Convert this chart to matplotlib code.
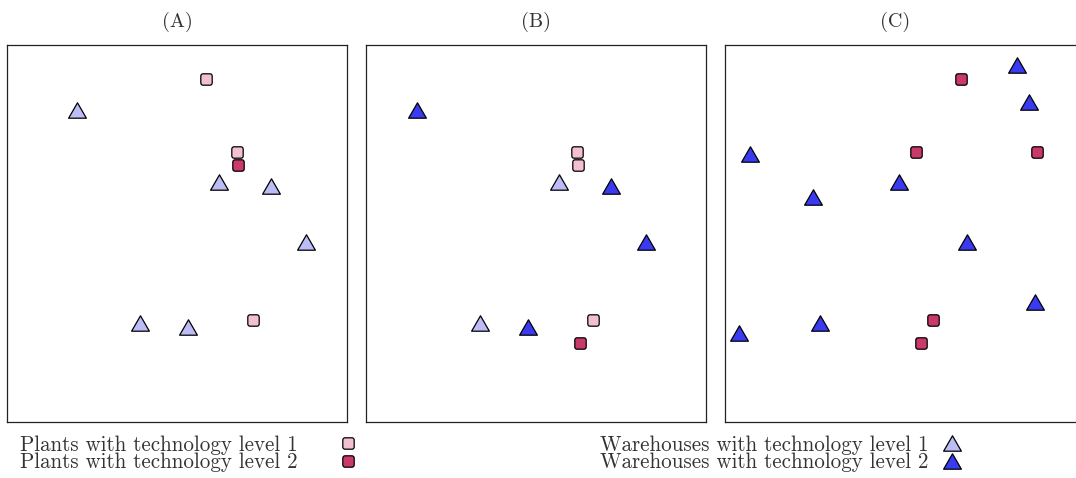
import numpy as np
import matplotlib
matplotlib.use('Agg')
import matplotlib.pyplot as plt
from matplotlib.path import Path
from matplotlib.lines import Line2D

plt.rcParams['font.family'] = ['cmr10', 'DejaVu Serif']
plt.rcParams['mathtext.fontset'] = 'cm'
plt.rcParams['axes.unicode_minus'] = False

# --- data: site coordinates (x, y on a 0-100 grid) and technology level ---
panel_titles = ['(A)', '(B)', '(C)']

plants_a_x = [58.4, 67.6, 67.9, 72.3]
plants_a_y = [90.9, 71.7, 68.2, 27.1]
plants_a_lvl = [1, 1, 2, 1]
wh_a_x = [20.5, 62.3, 77.6, 88.0, 39.2, 53.3]
wh_a_y = [82.8, 63.7, 62.7, 47.8, 26.2, 25.1]
wh_a_lvl = [1, 1, 1, 1, 1, 1]

plants_b_x = [67.6, 67.9, 72.3, 68.5]
plants_b_y = [71.7, 68.2, 27.1, 21.0]
plants_b_lvl = [1, 1, 1, 2]
wh_b_x = [20.5, 62.3, 77.6, 88.0, 39.2, 53.3]
wh_b_y = [82.8, 63.7, 62.7, 47.8, 26.2, 25.1]
wh_b_lvl = [2, 1, 2, 2, 1, 2]

plants_c_x = [69.4, 56.3, 91.7, 61.1, 57.6]
plants_c_y = [90.9, 71.7, 71.7, 27.1, 20.9]
plants_c_lvl = [2, 2, 2, 2, 2]
wh_c_x = [85.9, 89.3, 7.4, 51.2, 25.9, 71.3, 91.2, 28.0, 4.0]
wh_c_y = [94.7, 84.8, 71.1, 63.6, 59.8, 47.8, 31.9, 26.2, 23.7]
wh_c_lvl = [2, 2, 2, 2, 2, 2, 2, 2, 2]

xlims = [(0, 100), (5.6, 105.6), (0, 107.4)]

plant_colors = {1: '#f2c0cf', 2: '#c93a69'}
wh_colors = {1: '#bcbcf6', 2: '#3a3af0'}


def rounded_square(r=0.4):
    verts = [(-1 + r, -1), (1 - r, -1), (1, -1), (1, -1 + r), (1, 1 - r), (1, 1),
             (1 - r, 1), (-1 + r, 1), (-1, 1), (-1, 1 - r), (-1, -1 + r), (-1, -1),
             (-1 + r, -1), (-1 + r, -1)]
    codes = [Path.MOVETO, Path.LINETO, Path.CURVE3, Path.CURVE3, Path.LINETO, Path.CURVE3,
             Path.CURVE3, Path.LINETO, Path.CURVE3, Path.CURVE3, Path.LINETO, Path.CURVE3,
             Path.CURVE3, Path.CLOSEPOLY]
    return Path(verts, codes)


SQ = rounded_square()
TRI = Path([(0, 0.866), (-1, -0.866), (1, -0.866), (0, 0.866)],
           [Path.MOVETO, Path.LINETO, Path.LINETO, Path.CLOSEPOLY])
SQ_MS = 8.2
TRI_MS = 12.8
LEG_FS = 15.1

W, H = 1076, 478
fig = plt.figure(figsize=(W / 100, H / 100), dpi=100)

panels = [
    (plants_a_x, plants_a_y, plants_a_lvl, wh_a_x, wh_a_y, wh_a_lvl),
    (plants_b_x, plants_b_y, plants_b_lvl, wh_b_x, wh_b_y, wh_b_lvl),
    (plants_c_x, plants_c_y, plants_c_lvl, wh_c_x, wh_c_y, wh_c_lvl),
]
lefts = [7, 366, 725]
widths = [340, 340, 365.2]

for i, (px, py, pl, wx, wy, wl) in enumerate(panels):
    ax = fig.add_axes([lefts[i] / W, (H - 422) / H, widths[i] / W, 377 / H])
    for lvl in (1, 2):
        sel = [k for k in range(len(wx)) if wl[k] == lvl]
        if sel:
            ax.plot([wx[k] for k in sel], [wy[k] for k in sel], linestyle='none',
                    marker=TRI, ms=TRI_MS, mfc=wh_colors[lvl], mec='black', mew=0.9,
                    clip_on=False)
        sel = [k for k in range(len(px)) if pl[k] == lvl]
        if sel:
            ax.plot([px[k] for k in sel], [py[k] for k in sel], linestyle='none',
                    marker=SQ, ms=SQ_MS, mfc=plant_colors[lvl], mec='black', mew=0.9,
                    clip_on=False)
    ax.set_xlim(*xlims[i])
    ax.set_ylim(0, 100)
    ax.set_xticks([])
    ax.set_yticks([])
    for sp in ax.spines.values():
        sp.set_linewidth(0.9)
        sp.set_color('#222222')
    fig.text((lefts[i] + 170) / W, 1 - 22 / H, panel_titles[i], ha='center', va='center',
             fontsize=14.5, color='#333333')

plant_handles = [Line2D([], [], linestyle='none', marker=SQ, ms=SQ_MS, mfc=plant_colors[l],
                        mec='black', mew=0.9) for l in (1, 2)]
wh_handles = [Line2D([], [], linestyle='none', marker=TRI, ms=TRI_MS, mfc=wh_colors[l],
                     mec='black', mew=0.9) for l in (1, 2)]

fig.legend(plant_handles, ['Plants with technology level 1', 'Plants with technology level 2'],
           loc='upper left', bbox_to_anchor=(20 / W, 1 - 435 / H), frameon=False,
           markerfirst=False, fontsize=LEG_FS, labelspacing=-0.08, handlelength=1.0,
           handletextpad=1.88, borderpad=0, borderaxespad=0, labelcolor='#333333')
fig.legend(wh_handles, ['Warehouses with technology level 1', 'Warehouses with technology level 2'],
           loc='upper left', bbox_to_anchor=(600 / W, 1 - 435 / H), frameon=False,
           markerfirst=False, fontsize=LEG_FS, labelspacing=-0.08, handlelength=1.0,
           handletextpad=0.64, borderpad=0, borderaxespad=0, labelcolor='#333333')

fig.savefig('out.png', dpi=100)
